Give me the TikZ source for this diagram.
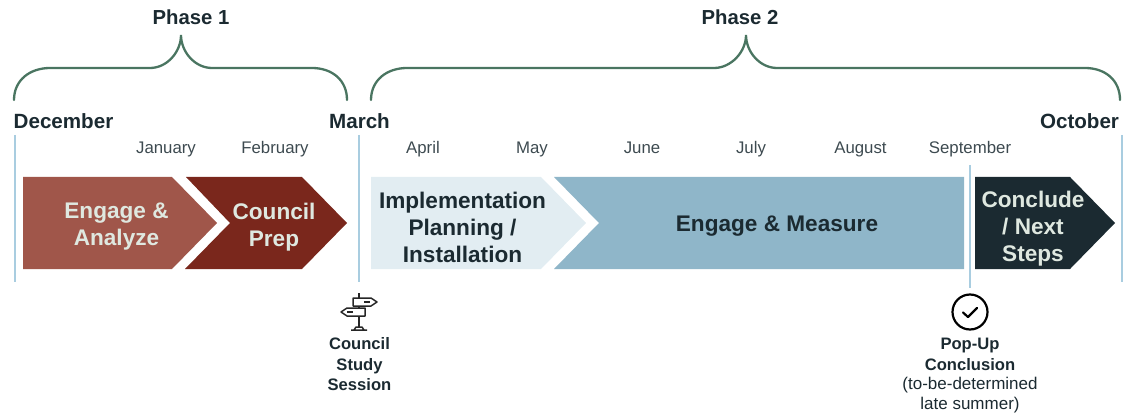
\documentclass[tikz,border=0pt]{standalone}
\usepackage{fontspec}
\setmainfont{Liberation Sans}
\definecolor{inkdark}{HTML}{1B2A31}
\definecolor{palelt}{HTML}{DFE8E0}
\definecolor{redlt}{HTML}{A0564A}
\definecolor{reddk}{HTML}{7A271C}
\definecolor{bluelt}{HTML}{E2EDF2}
\definecolor{bluemd}{HTML}{8FB6C9}
\definecolor{greenbr}{HTML}{4A7561}
\definecolor{rulec}{HTML}{A9CDE0}
\tikzset{
  bracec/.style={draw=greenbr,line width=2.3pt,line cap=round},
  rulel/.style={draw=rulec,line width=1.3pt},
  phasetxt/.style={font=\fontsize{20.3}{22}\selectfont\bfseries,text=inkdark,inner sep=0pt,anchor=base},
  endtxt/.style={font=\fontsize{20.6}{22}\selectfont\bfseries,text=inkdark,inner sep=0pt,anchor=base},
  monthtxt/.style={font=\fontsize{16.8}{20}\selectfont,text=inkdark!85,inner sep=0pt,anchor=base},
  bartxt/.style={font=\fontsize{22.6}{27}\selectfont\bfseries,align=center,inner sep=0pt},
  subtxt/.style={font=\fontsize{16.6}{20.5}\selectfont\bfseries,text=inkdark,align=center,inner sep=0pt},
  icon/.style={draw=black!85,line width=1.5pt,line join=round},
}
\begin{document}
\begin{tikzpicture}[x=1pt,y=-1pt]
\useasboundingbox (0,0) rectangle (1123,414);
% vertical rules
\coordinate (r1a) at (15,135); \coordinate (r1b) at (15,282);
\coordinate (r2a) at (359,135); \coordinate (r2b) at (359,282);
\coordinate (r3a) at (970,165); \coordinate (r3b) at (970,288);
\coordinate (r4a) at (1122,135); \coordinate (r4b) at (1122,282);
\draw[rulel] (r1a) -- (r1b);
\draw[rulel] (r2a) -- (r2b);
\draw[rulel] (r3a) -- (r3b);
\draw[rulel] (r4a) -- (r4b);
% braces
\draw[bracec] (14,100) .. controls (14,80) and (30,68) .. (50,68) -- (150,68)
  .. controls (167,68) and (181,52) .. (181,35)
  .. controls (181,52) and (195,68) .. (212,68) -- (312,68)
  .. controls (332,68) and (347,80) .. (347,100);
\draw[bracec] (371,100) .. controls (371,80) and (387,68) .. (407,68) -- (714,68)
  .. controls (731,68) and (746,52) .. (746,35)
  .. controls (746,52) and (760,68) .. (777,68) -- (1085,68)
  .. controls (1105,68) and (1120,80) .. (1120,100);
% headings
\node[phasetxt] (ph1) at (191,25) {Phase 1};
\node[phasetxt] (ph2) at (740,25) {Phase 2};
\node[endtxt] (dec) at (63.5,128.5) {December};
\node[endtxt] (mar) at (359.5,128.5) {March};
\node[endtxt] (oct) at (1079.5,128.5) {October};
\node[monthtxt] (jan) at (166,154) {January};
\node[monthtxt] (feb) at (275,154) {February};
\node[monthtxt] (apr) at (423,154) {April};
\node[monthtxt] (may) at (532,154) {May};
\node[monthtxt] (jun) at (642,154) {June};
\node[monthtxt] (jul) at (751,154) {July};
\node[monthtxt] (aug) at (860.5,154) {August};
\node[monthtxt] (sep) at (970,154) {September};
% bars
\fill[redlt] (23,177) -- (172,177) -- (217,223) -- (172,269) -- (23,269) -- cycle;
\fill[reddk] (186,177) -- (302,177) -- (347,223) -- (302,269) -- (185,269) -- (230,223) -- cycle;
\fill[bluelt] (371,177) -- (541,177) -- (586,223) -- (541,269) -- (371,269) -- cycle;
\fill[bluemd] (554,177) -- (964,177) -- (964,269) -- (554,269) -- (599,223) -- cycle;
\fill[inkdark] (975,177) -- (1070,177) -- (1115,223) -- (1070,269) -- (975,269) -- cycle;
\node[bartxt,text=palelt] (b1) at (116.5,227) {Engage \&\\Analyze};
\node[bartxt,text=palelt] (b2) at (274,227) {Council\\Prep};
\node[bartxt,text=inkdark] (b3) at (462.5,227) {Implementation\\Planning /\\Installation};
\node[bartxt,text=inkdark] (b4) at (777,226) {Engage \& Measure};
\node[bartxt,text=palelt] (b5) at (1033,229) {Conclude\\/ Next\\Steps};
% signpost icon
\draw[icon,line width=2pt] (359,293) -- (359,298);
\draw[icon,line width=2pt] (359,306) -- (359,308);
\draw[icon,line width=2.4pt] (359,316) -- (359,327);
\draw[icon] (353,298) -- (371,298) -- (377,302) -- (371,306) -- (353,306) -- cycle;
\draw[icon] (365,308) -- (347,308) -- (341,312) -- (347,316) -- (365,316) -- cycle;
\draw[icon] (351,330) -- (367,330) (354,330) -- (356,327) -- (362,327) -- (364,330);
\draw[black!85,line width=1.2pt] (364,302) -- (370,302) (347,312) -- (353,312);
\node[subtxt] (cs) at (359.5,364.5) {Council\\Study\\Session};
% check icon
\node[circle,draw=black,line width=2.2pt,minimum size=35pt,inner sep=0pt] (chk) at (970,312) {};
\draw[black,line width=2.2pt,line cap=round,line join=round] (963,312.5) -- (968,317) -- (977,308);
\node[subtxt] (pu) at (970,354.5) {Pop-Up\\Conclusion};
\node[font=\fontsize{17}{20.5}\selectfont,text=inkdark,align=center,inner sep=0pt] (tbd) at (970,395) {(to-be-determined\\late summer)};
\end{tikzpicture}
\end{document}
